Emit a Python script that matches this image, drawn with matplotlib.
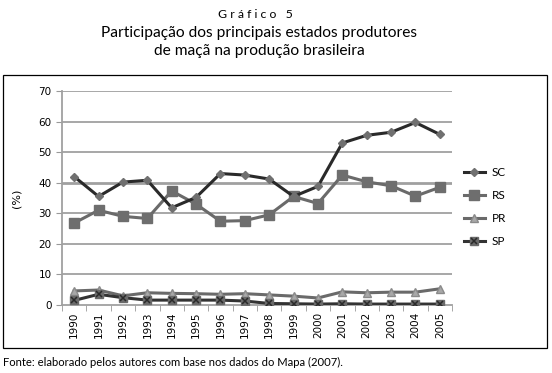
import matplotlib
matplotlib.use("Agg")
import matplotlib.pyplot as plt
from matplotlib.patches import Rectangle

years = [str(y) for y in range(1990, 2006)]
sc = [42.0, 35.5, 40.2, 40.8, 31.8, 35.2, 43.0, 42.5, 41.2, 35.5, 38.8, 53.0, 55.5, 56.5, 59.7, 55.8]
rs = [26.8, 31.0, 29.0, 28.3, 37.3, 33.0, 27.4, 27.6, 29.5, 35.5, 33.2, 42.5, 40.3, 39.0, 35.6, 38.5]
pr = [4.6, 4.9, 3.0, 4.0, 3.8, 3.7, 3.5, 3.7, 3.3, 2.9, 2.3, 4.3, 4.0, 4.2, 4.2, 5.3]
sp = [1.5, 3.5, 2.4, 1.6, 1.6, 1.6, 1.6, 1.3, 0.5, 0.4, 0.3, 0.4, 0.3, 0.3, 0.3, 0.3]
yticks = list(range(0, 71, 10))

plt.rcParams["font.family"] = ["Lato", "DejaVu Sans"]

fig = plt.figure(figsize=(5.52, 3.73), dpi=100)
ax = fig.add_axes([62 / 552, 1 - 305 / 373, 390 / 552, 214 / 373])

x = list(range(len(years)))
h_sc, = ax.plot(x, sc, color="#2a2a2a", lw=2.2, marker="D", ms=4.5, mfc="#707070", mec="#707070", zorder=5)
h_rs, = ax.plot(x, rs, color="#6a6a6a", lw=2.2, marker="s", ms=6.5, mfc="#6e6e6e", mec="#6e6e6e", zorder=4)
h_pr, = ax.plot(x, pr, color="#6a6a6a", lw=2.2, marker="^", ms=6, mfc="#a8a8a8", mec="#8a8a8a", zorder=3)
h_sp, = ax.plot(x, sp, color="#333333", lw=2.2, marker="s", ms=5.5, mfc="#6a6a6a", mec="#6a6a6a", zorder=6)
h_spx, = ax.plot(x, sp, ls="none", marker="x", ms=4.5, mew=1.1, color="#2a2a2a", zorder=7)

ax.set_xlim(-0.5, len(years) - 0.5)
ax.set_ylim(0, 70)
ax.set_yticks(yticks)
ax.set_yticklabels([str(t) for t in yticks], fontsize=7.5, family="DejaVu Sans")
ax.set_xticks(x)
ax.set_xticklabels(years, rotation=90, fontsize=7.5, family="DejaVu Sans")
ax.set_xticks([i - 0.5 for i in range(len(years) + 1)], minor=True)
ax.tick_params(axis="x", which="major", length=0, pad=5)
ax.tick_params(axis="x", which="minor", length=4, color="#999999", direction="out")
ax.tick_params(axis="y", length=4, color="#999999")
for t in yticks[1:]:
    ax.axhline(t, color="#a0a0a0", lw=2.0 if t == 40 else 1.3, zorder=1)
for s in ("top", "right"):
    ax.spines[s].set_visible(False)
ax.spines["left"].set_color("#a0a0a0")
ax.spines["bottom"].set_color("#a0a0a0")
ax.spines["left"].set_linewidth(1.3)
ax.spines["bottom"].set_linewidth(1.3)
ax.set_ylabel("(%)", fontsize=8, family="DejaVu Sans", labelpad=12)

leg = fig.legend([h_sc, h_rs, h_pr, (h_sp, h_spx)], ["SC", "RS", "PR", "SP"],
                 loc="center left", bbox_to_anchor=(453 / 552, 1 - 207 / 373),
                 frameon=False, fontsize=8.5, labelspacing=1.0, handlelength=1.8, handletextpad=0.6)

fig.patches.append(Rectangle((3 / 552, 1 - 348 / 373), 544 / 552, 273 / 373,
                             transform=fig.transFigure, fill=False, ec="black", lw=0.9))

fig.text(255 / 552, 1 - 14 / 373, "G r á f i c o   5", ha="center", va="center", fontsize=8.8)
fig.text(259 / 552, 1 - 33 / 373, "Participação dos principais estados produtores",
         ha="center", va="center", fontsize=11.2)
fig.text(259 / 552, 1 - 51 / 373, "de maçã na produção brasileira",
         ha="center", va="center", fontsize=11.2)
fig.text(3 / 552, 1 - 362 / 373, "Fonte: elaborado pelos autores com base nos dados do Mapa (2007).",
         ha="left", va="center", fontsize=8.1)

fig.savefig("out.png", dpi=100)
